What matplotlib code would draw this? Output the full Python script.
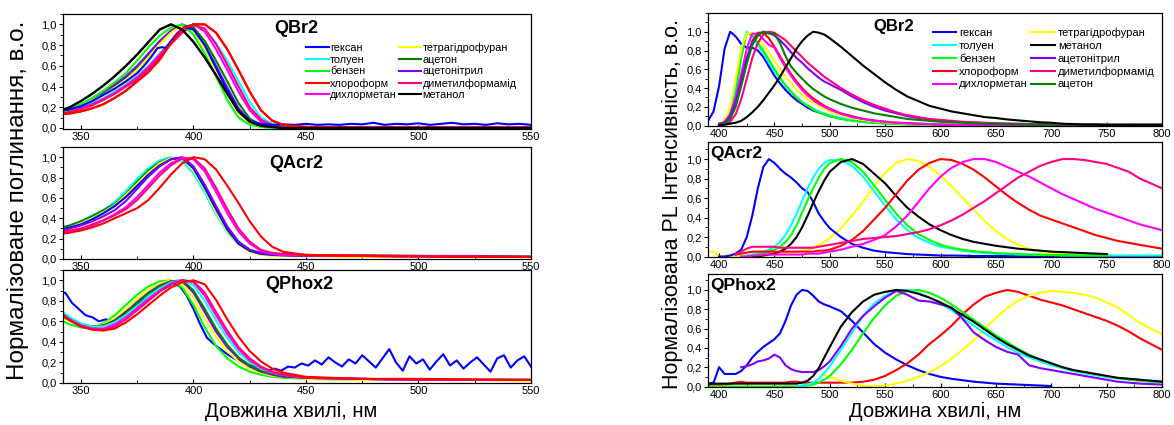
import matplotlib
matplotlib.use('Agg')
import matplotlib.pyplot as plt
from matplotlib.ticker import MultipleLocator, FuncFormatter

plt.rcParams['font.family'] = ['Liberation Sans', 'DejaVu Sans']

# solvent names and colours (Origin-like)
names = {'hex': 'гексан', 'tol': 'толуен', 'bz': 'бензен', 'chl': 'хлороформ',
         'dcm': 'дихлорметан', 'thf': 'тетрагідрофуран', 'ace': 'ацетон',
         'acn': 'ацетонітрил', 'dmf': 'диметилформамід', 'meoh': 'метанол'}
colors = {'hex': '#0000ff', 'tol': '#00ffff', 'bz': '#00ff00', 'chl': '#ff0000',
          'dcm': '#ff00ff', 'thf': '#ffff00', 'ace': '#008000', 'acn': '#8000ff',
          'dmf': '#ff0080', 'meoh': '#000000'}

# ---------------- absorption (left column) ----------------
wl_abs = list(range(340, 441, 5)) + [450, 475, 500, 525, 550]

# QBr2
br_abs = {
    'meoh': [0.16, 0.20, 0.26, 0.33, 0.41, 0.50, 0.60, 0.71, 0.83, 0.95, 1.00, 0.95, 0.83, 0.68, 0.51, 0.33, 0.16, 0.06, 0.02, 0.01, 0.0, 0.0, 0.0, 0.0, 0.0, 0.0],
    'bz':   [0.14, 0.18, 0.23, 0.29, 0.36, 0.44, 0.53, 0.65, 0.78, 0.89, 0.97, 1.00, 0.90, 0.72, 0.50, 0.27, 0.10, 0.03, 0.01, 0.0, 0.0, 0.0, 0.0, 0.0, 0.0, 0.0],
    'acn':  [0.15, 0.18, 0.22, 0.28, 0.35, 0.42, 0.50, 0.60, 0.72, 0.84, 0.94, 1.00, 0.95, 0.80, 0.60, 0.39, 0.19, 0.07, 0.02, 0.01, 0.0, 0.0, 0.0, 0.0, 0.0, 0.0],
    'ace':  [0.15, 0.18, 0.22, 0.27, 0.33, 0.41, 0.49, 0.59, 0.71, 0.83, 0.93, 0.99, 0.97, 0.84, 0.65, 0.45, 0.24, 0.09, 0.03, 0.01, 0.0, 0.0, 0.0, 0.0, 0.0, 0.0],
    'thf':  [0.16, 0.18, 0.22, 0.27, 0.32, 0.39, 0.46, 0.56, 0.68, 0.81, 0.92, 0.99, 0.93, 0.77, 0.56, 0.34, 0.15, 0.05, 0.02, 0.01, 0.0, 0.0, 0.0, 0.0, 0.0, 0.0],
    'tol':  [0.15, 0.17, 0.20, 0.24, 0.29, 0.35, 0.42, 0.50, 0.60, 0.72, 0.84, 0.94, 1.00, 0.95, 0.82, 0.65, 0.45, 0.25, 0.10, 0.04, 0.01, 0.0, 0.0, 0.0, 0.0, 0.0],
    'dcm':  [0.14, 0.16, 0.19, 0.23, 0.28, 0.34, 0.41, 0.49, 0.59, 0.71, 0.83, 0.94, 1.00, 0.93, 0.76, 0.56, 0.35, 0.17, 0.06, 0.02, 0.01, 0.0, 0.0, 0.0, 0.0, 0.0],
    'dmf':  [0.14, 0.16, 0.18, 0.22, 0.27, 0.33, 0.40, 0.47, 0.57, 0.69, 0.81, 0.92, 0.99, 0.96, 0.81, 0.61, 0.40, 0.20, 0.08, 0.03, 0.01, 0.01, 0.01, 0.01, 0.01, 0.01],
    'chl':  [0.13, 0.14, 0.16, 0.19, 0.23, 0.29, 0.36, 0.45, 0.54, 0.66, 0.82, 0.96, 1.00, 1.00, 0.92, 0.76, 0.56, 0.35, 0.17, 0.07, 0.03, 0.01, 0.0, 0.0, 0.0, 0.0],
}
br_abs_hex_wl = [340, 345, 350, 355, 360, 365, 370, 375, 378, 381, 384, 386, 388, 390, 393, 396,
                 400, 405, 410, 415, 420, 425, 430, 435, 440, 445, 450, 455, 460, 465, 470, 475,
                 480, 485, 490, 495, 500, 505, 510, 515, 520, 525, 530, 535, 540, 545, 550]
br_abs_hex = [0.16, 0.18, 0.21, 0.26, 0.32, 0.38, 0.45, 0.53, 0.60, 0.68, 0.77, 0.78, 0.77, 0.84, 0.92, 0.97,
              0.95, 0.80, 0.58, 0.36, 0.17, 0.07, 0.04, 0.03, 0.035, 0.03, 0.04, 0.03, 0.035, 0.03, 0.04, 0.035,
              0.05, 0.03, 0.04, 0.035, 0.045, 0.03, 0.04, 0.05, 0.035, 0.04, 0.03, 0.045, 0.035, 0.04, 0.03]

# QAcr2
acr_abs = {
    'tol': [0.30, 0.33, 0.37, 0.43, 0.48, 0.56, 0.67, 0.79, 0.89, 0.97, 1.00, 0.96, 0.84, 0.65, 0.44, 0.26, 0.14, 0.08, 0.05, 0.04, 0.035, 0.03, 0.03, 0.025, 0.02, 0.02],
    'ace': [0.30, 0.33, 0.37, 0.42, 0.48, 0.54, 0.64, 0.76, 0.87, 0.95, 0.99, 0.99, 0.89, 0.71, 0.50, 0.31, 0.17, 0.09, 0.06, 0.05, 0.045, 0.04, 0.035, 0.03, 0.03, 0.025],
    'thf': [0.28, 0.31, 0.35, 0.40, 0.46, 0.53, 0.63, 0.74, 0.85, 0.94, 0.99, 0.98, 0.87, 0.68, 0.46, 0.27, 0.14, 0.07, 0.04, 0.03, 0.03, 0.025, 0.02, 0.02, 0.02, 0.02],
    'hex': [0.28, 0.31, 0.34, 0.39, 0.45, 0.52, 0.61, 0.72, 0.83, 0.92, 0.98, 0.99, 0.89, 0.70, 0.49, 0.29, 0.15, 0.08, 0.05, 0.04, 0.035, 0.03, 0.03, 0.025, 0.02, 0.02],
    'acn': [0.27, 0.30, 0.33, 0.37, 0.42, 0.48, 0.57, 0.69, 0.81, 0.91, 0.98, 1.00, 0.91, 0.73, 0.52, 0.32, 0.17, 0.09, 0.06, 0.045, 0.04, 0.035, 0.03, 0.03, 0.025, 0.02],
    'dcm': [0.24, 0.26, 0.29, 0.33, 0.38, 0.44, 0.51, 0.61, 0.73, 0.85, 0.94, 0.99, 0.98, 0.86, 0.66, 0.45, 0.27, 0.15, 0.08, 0.05, 0.04, 0.035, 0.03, 0.025, 0.02, 0.02],
    'dmf': [0.26, 0.28, 0.30, 0.34, 0.38, 0.43, 0.49, 0.58, 0.70, 0.82, 0.92, 0.99, 0.99, 0.89, 0.70, 0.49, 0.30, 0.17, 0.09, 0.06, 0.05, 0.04, 0.035, 0.03, 0.025, 0.02],
    'chl': [0.25, 0.26, 0.28, 0.31, 0.35, 0.40, 0.45, 0.50, 0.58, 0.70, 0.83, 0.94, 1.00, 0.98, 0.88, 0.72, 0.55, 0.37, 0.22, 0.12, 0.07, 0.04, 0.03, 0.025, 0.02, 0.02],
}

# QPhox2
ph_abs = {
    'bz':  [0.62, 0.57, 0.54, 0.54, 0.58, 0.66, 0.76, 0.86, 0.94, 0.99, 1.00, 0.93, 0.76, 0.54, 0.36, 0.24, 0.16, 0.11, 0.08, 0.06, 0.05, 0.04, 0.03, 0.03, 0.03, 0.03],
    'thf': [0.66, 0.60, 0.56, 0.55, 0.57, 0.63, 0.72, 0.82, 0.91, 0.97, 1.00, 0.96, 0.83, 0.63, 0.45, 0.31, 0.21, 0.14, 0.10, 0.07, 0.06, 0.04, 0.03, 0.03, 0.03, 0.02],
    'acn': [0.68, 0.62, 0.57, 0.55, 0.56, 0.61, 0.69, 0.79, 0.88, 0.95, 0.99, 0.99, 0.88, 0.69, 0.50, 0.35, 0.24, 0.16, 0.11, 0.08, 0.06, 0.05, 0.04, 0.03, 0.03, 0.03],
    'ace': [0.67, 0.61, 0.57, 0.55, 0.56, 0.60, 0.68, 0.78, 0.87, 0.94, 0.99, 1.00, 0.90, 0.72, 0.53, 0.37, 0.25, 0.17, 0.12, 0.09, 0.07, 0.05, 0.04, 0.035, 0.03, 0.03],
    'tol': [0.72, 0.64, 0.58, 0.55, 0.55, 0.59, 0.66, 0.75, 0.84, 0.92, 0.98, 1.00, 0.95, 0.80, 0.61, 0.44, 0.30, 0.20, 0.14, 0.10, 0.08, 0.05, 0.04, 0.03, 0.03, 0.03],
    'dcm': [0.70, 0.62, 0.56, 0.53, 0.53, 0.57, 0.64, 0.73, 0.82, 0.90, 0.97, 1.00, 0.98, 0.85, 0.66, 0.48, 0.33, 0.22, 0.15, 0.10, 0.08, 0.05, 0.04, 0.03, 0.03, 0.03],
    'dmf': [0.69, 0.61, 0.55, 0.52, 0.52, 0.55, 0.62, 0.71, 0.80, 0.89, 0.96, 1.00, 0.99, 0.88, 0.69, 0.51, 0.35, 0.24, 0.16, 0.11, 0.08, 0.05, 0.04, 0.03, 0.03, 0.03],
    'chl': [0.70, 0.61, 0.55, 0.52, 0.51, 0.53, 0.59, 0.67, 0.76, 0.85, 0.93, 0.98, 1.00, 0.96, 0.81, 0.62, 0.45, 0.31, 0.21, 0.14, 0.10, 0.06, 0.04, 0.04, 0.035, 0.03],
}
ph_abs_hex_wl = list(range(340, 551, 3))
ph_abs_hex = [0.85, 0.88, 0.78, 0.72, 0.66, 0.64, 0.60, 0.62, 0.60, 0.65,
              0.70, 0.74, 0.79, 0.82, 0.87, 0.90, 0.93, 0.97, 0.94, 0.85,
              0.72, 0.57, 0.44, 0.38, 0.33, 0.28, 0.24, 0.21, 0.18, 0.16,
              0.14, 0.12, 0.14, 0.12, 0.16, 0.15, 0.19, 0.17, 0.22, 0.18,
              0.25, 0.20, 0.16, 0.23, 0.19, 0.27, 0.21, 0.15, 0.24, 0.33,
              0.20, 0.12, 0.26, 0.19, 0.23, 0.13, 0.21, 0.28, 0.17, 0.22,
              0.14, 0.20, 0.25, 0.18, 0.11, 0.24, 0.27, 0.15, 0.22, 0.26,
              0.16]

# ---------------- photoluminescence (right column) ----------------
wl_pl = list(range(390, 500, 5)) + list(range(500, 801, 10))

br_tail = [0.008, 0.007, 0.006, 0.005, 0.005, 0.005, 0.005, 0.005, 0.005, 0.005, 0.005,
           0.005, 0.005, 0.005, 0.005, 0.005, 0.005, 0.005, 0.005, 0.005, 0.005]

# QBr2: (start wavelength, values)
br_pl = {
    'hex': (390, [0.05, 0.15, 0.42, 0.82, 1.00, 0.95, 0.87, 0.83, 0.83, 0.80, 0.73, 0.63, 0.53, 0.45, 0.38, 0.32, 0.27, 0.23, 0.19, 0.16, 0.14, 0.12,
                  0.10, 0.075, 0.055, 0.04, 0.03, 0.025, 0.02, 0.015, 0.012, 0.01] + br_tail),
    'tol': (400, [0.01, 0.04, 0.14, 0.40, 0.82, 1.00, 0.95, 0.86, 0.77, 0.67, 0.58, 0.50, 0.42, 0.36, 0.30, 0.25, 0.21, 0.18, 0.15, 0.13,
                  0.11, 0.08, 0.06, 0.045, 0.035, 0.025, 0.02, 0.015, 0.01, 0.01] + br_tail),
    'bz':  (400, [0.01, 0.03, 0.11, 0.33, 0.72, 0.98, 0.97, 0.88, 0.80, 0.70, 0.60, 0.51, 0.43, 0.36, 0.30, 0.25, 0.21, 0.17, 0.14, 0.12,
                  0.10, 0.07, 0.05, 0.04, 0.03, 0.02, 0.015, 0.012, 0.01, 0.01] + br_tail),
    'thf': (400, [0.01, 0.06, 0.20, 0.50, 0.82, 0.98, 0.99, 0.93, 0.86, 0.78, 0.69, 0.60, 0.52, 0.45, 0.38, 0.33, 0.28, 0.24, 0.21, 0.18,
                  0.15, 0.11, 0.08, 0.06, 0.045, 0.035, 0.025, 0.02, 0.015, 0.01] + br_tail),
    'dcm': (400, [0.01, 0.04, 0.12, 0.30, 0.55, 0.82, 0.98, 0.98, 0.92, 0.86, 0.83, 0.72, 0.62, 0.53, 0.45, 0.38, 0.32, 0.27, 0.23, 0.20,
                  0.17, 0.125, 0.09, 0.07, 0.05, 0.04, 0.03, 0.025, 0.02, 0.015] + br_tail),
    'chl': (400, [0.01, 0.02, 0.08, 0.22, 0.45, 0.70, 0.90, 0.99, 0.99, 0.93, 0.84, 0.74, 0.64, 0.55, 0.47, 0.40, 0.34, 0.29, 0.25, 0.21,
                  0.18, 0.13, 0.10, 0.07, 0.055, 0.04, 0.03, 0.025, 0.02, 0.015] + br_tail),
    'ace': (400, [0.00, 0.02, 0.07, 0.20, 0.42, 0.66, 0.86, 0.96, 1.00, 0.98, 0.98, 0.88, 0.74, 0.63, 0.56, 0.50, 0.44, 0.39, 0.35, 0.31,
                  0.28, 0.23, 0.19, 0.16, 0.13, 0.11, 0.09, 0.07, 0.06, 0.05,
                  0.04, 0.035, 0.03, 0.025, 0.02, 0.02, 0.015, 0.015, 0.012, 0.01, 0.01, 0.01, 0.01, 0.01, 0.01, 0.01, 0.01, 0.01, 0.01, 0.01, 0.01]),
    'acn': (400, [0.02, 0.03, 0.10, 0.25, 0.48, 0.72, 0.89, 0.97, 1.00, 0.99, 0.96, 0.91, 0.85, 0.78, 0.72, 0.67, 0.61, 0.56, 0.51, 0.47,
                  0.44, 0.38, 0.31, 0.25, 0.20, 0.16, 0.13, 0.10, 0.08, 0.065,
                  0.05, 0.04, 0.035, 0.03, 0.025, 0.02, 0.02, 0.015, 0.015, 0.01, 0.01, 0.01, 0.01, 0.01, 0.01, 0.01, 0.01, 0.01, 0.01, 0.01, 0.01]),
    'dmf': (400, [0.00, 0.01, 0.04, 0.12, 0.28, 0.50, 0.72, 0.88, 0.97, 1.00, 0.99, 0.95, 0.91, 0.85, 0.79, 0.73, 0.67, 0.62, 0.57, 0.52,
                  0.48, 0.40, 0.33, 0.27, 0.22, 0.18, 0.14, 0.11, 0.09, 0.07,
                  0.06, 0.05, 0.04, 0.035, 0.03, 0.025, 0.02, 0.02, 0.015, 0.015, 0.01, 0.01, 0.01, 0.01, 0.01, 0.01, 0.01, 0.01, 0.01, 0.01, 0.01]),
    'meoh': (400, [0.00, 0.01, 0.02, 0.03, 0.05, 0.09, 0.14, 0.20, 0.27, 0.35, 0.43, 0.52, 0.62, 0.72, 0.82, 0.90, 0.96, 1.00, 0.99, 0.97,
                   0.93, 0.84, 0.74, 0.64, 0.55, 0.46, 0.38, 0.31, 0.26, 0.21,
                   0.18, 0.15, 0.13, 0.11, 0.09, 0.08, 0.065, 0.055, 0.045, 0.035, 0.03, 0.02, 0.015, 0.01, 0.01, 0.005, 0.005, 0.005, 0.005, 0.005, 0.005]),
}

# QAcr2
acr_pl = {
    'hex': (400, [0.0, 0.0, 0.01, 0.03, 0.07, 0.20, 0.42, 0.70, 0.92, 1.00, 0.96, 0.90, 0.85, 0.81, 0.76, 0.70, 0.66, 0.56, 0.44, 0.36,
                  0.29, 0.20, 0.13, 0.09, 0.06, 0.045, 0.035, 0.025, 0.02, 0.015,
                  0.01, 0.01, 0.008, 0.006, 0.005, 0.005, 0.005, 0.005, 0.005, 0.005, 0.005, 0.005, 0.005, 0.005, 0.005, 0.005, 0.005, 0.005, 0.005, 0.005, 0.005]),
    'tol': (420, [0.0, 0.01, 0.02, 0.03, 0.05, 0.07, 0.10, 0.15, 0.22, 0.32, 0.44, 0.57, 0.70, 0.81, 0.90, 0.96,
                  0.99, 0.99, 0.93, 0.82, 0.67, 0.52, 0.38, 0.27, 0.19, 0.14,
                  0.10, 0.08, 0.06, 0.045, 0.035, 0.03, 0.025, 0.02, 0.02, 0.015, 0.015, 0.01, 0.01, 0.01, 0.01, 0.01, 0.01, 0.01, 0.01, 0.01, 0.01]),
    'bz':  (425, [0.0, 0.01, 0.02, 0.03, 0.05, 0.07, 0.10, 0.15, 0.22, 0.32, 0.45, 0.58, 0.70, 0.81, 0.90,
                  0.96, 1.00, 0.97, 0.87, 0.73, 0.58, 0.44, 0.32, 0.23, 0.17,
                  0.12, 0.09, 0.07, 0.055, 0.045, 0.035, 0.03, 0.025, 0.02, 0.02, 0.015, 0.015, 0.01, 0.01, 0.01, 0.01]),
    'meoh': (430, [0.0, 0.0, 0.01, 0.02, 0.03, 0.05, 0.08, 0.13, 0.20, 0.30, 0.42, 0.55, 0.67, 0.78,
                   0.87, 0.97, 1.00, 0.95, 0.85, 0.75, 0.62, 0.50, 0.41, 0.33,
                   0.27, 0.22, 0.18, 0.15, 0.13, 0.11, 0.095, 0.08, 0.07, 0.06, 0.05, 0.045, 0.04, 0.035, 0.03, 0.025]),
    'thf': (390, [0.05, 0.05, 0.0, 0.01, 0.01, 0.01, 0.01, 0.01, 0.01, 0.01, 0.01, 0.015, 0.02, 0.025, 0.03, 0.035, 0.045, 0.055, 0.07, 0.09, 0.12, 0.15,
                  0.19, 0.29, 0.42, 0.56, 0.72, 0.86, 0.96, 1.00, 0.98, 0.92,
                  0.83, 0.72, 0.60, 0.48, 0.36, 0.26, 0.18, 0.12, 0.08, 0.05, 0.035, 0.025, 0.02, 0.015, 0.01, 0.01, 0.01, 0.01, 0.01, 0.01, 0.01]),
    'chl': (415, [0.02, 0.03, 0.04, 0.05, 0.05, 0.05, 0.05, 0.05, 0.05, 0.05, 0.05, 0.05, 0.05, 0.05, 0.05, 0.06, 0.06,
                  0.07, 0.11, 0.17, 0.26, 0.38, 0.50, 0.64, 0.78, 0.89, 0.96,
                  1.00, 0.99, 0.95, 0.89, 0.81, 0.72, 0.63, 0.55, 0.48, 0.42, 0.38, 0.34, 0.30, 0.26, 0.22, 0.19, 0.16, 0.14, 0.12, 0.10, 0.08]),
    'dcm': (420, [0.0, 0.0, 0.01, 0.01, 0.02, 0.02, 0.02, 0.02, 0.02, 0.02, 0.02, 0.02, 0.03, 0.03, 0.03, 0.04,
                  0.05, 0.07, 0.10, 0.13, 0.17, 0.22, 0.31, 0.42, 0.56, 0.70,
                  0.82, 0.91, 0.97, 1.00, 1.00, 0.97, 0.92, 0.87, 0.82, 0.76, 0.70, 0.64, 0.59, 0.54, 0.49, 0.45, 0.41, 0.37, 0.33, 0.30, 0.27]),
    'dmf': (415, [0.02, 0.05, 0.08, 0.10, 0.10, 0.10, 0.10, 0.10, 0.09, 0.09, 0.09, 0.09, 0.09, 0.09, 0.09, 0.10, 0.11,
                  0.12, 0.14, 0.16, 0.18, 0.19, 0.20, 0.21, 0.23, 0.25, 0.28,
                  0.32, 0.37, 0.43, 0.50, 0.57, 0.65, 0.73, 0.81, 0.87, 0.93, 0.97, 1.00, 1.00, 0.99, 0.97, 0.95, 0.91, 0.87, 0.80, 0.75, 0.70]),
}

# QPhox2
ph_pl = {
    'hex': (390, [0.03, 0.04, 0.20, 0.13, 0.13, 0.13, 0.16, 0.22, 0.30, 0.36, 0.41, 0.45, 0.49, 0.55, 0.68, 0.84, 0.95, 1.00, 0.99, 0.94, 0.88, 0.85,
                  0.83, 0.78, 0.68, 0.56, 0.44, 0.35, 0.28, 0.22, 0.17, 0.13,
                  0.10, 0.08, 0.065, 0.05, 0.04, 0.03, 0.025, 0.02, 0.015, 0.01, 0.005]),
    'acn': (420, [0.20, 0.21, 0.23, 0.26, 0.27, 0.29, 0.33, 0.30, 0.22, 0.18, 0.16, 0.15, 0.15, 0.15, 0.17, 0.21,
                  0.26, 0.42, 0.60, 0.73, 0.83, 0.92, 0.99, 0.95, 0.89, 0.88,
                  0.85, 0.82, 0.70, 0.56, 0.48, 0.41, 0.36, 0.33, 0.22, 0.19, 0.17, 0.15, 0.13, 0.11, 0.09, 0.07, 0.05, 0.04, 0.03, 0.025, 0.02]),
    'tol': (470, [0.0, 0.01, 0.02, 0.04, 0.08, 0.14,
                  0.21, 0.38, 0.56, 0.73, 0.86, 0.94, 0.99, 1.00, 0.97, 0.92,
                  0.86, 0.79, 0.71, 0.63, 0.55, 0.48, 0.41, 0.35, 0.30, 0.26, 0.22, 0.19, 0.16, 0.14, 0.12, 0.10, 0.09, 0.08, 0.07, 0.06, 0.05]),
    'bz':  (390, [0.0, 0.0, 0.0, 0.0, 0.0, 0.0, 0.0, 0.0, 0.0, 0.0, 0.0, 0.0, 0.0, 0.0, 0.0, 0.0, 0.0, 0.005, 0.01, 0.02, 0.04, 0.07,
                  0.11, 0.23, 0.38, 0.55, 0.71, 0.84, 0.94, 0.99, 1.00, 0.97,
                  0.92, 0.85, 0.77, 0.69, 0.61, 0.53, 0.46, 0.39, 0.33, 0.28, 0.24, 0.20, 0.17, 0.14, 0.12, 0.10, 0.085, 0.07, 0.06, 0.05, 0.045]),
    'meoh': (390, [0.03, 0.03, 0.03, 0.03, 0.03, 0.03, 0.03, 0.03, 0.03, 0.03, 0.03, 0.03, 0.03, 0.03, 0.03, 0.03, 0.03, 0.04, 0.06, 0.11, 0.19, 0.30,
                   0.41, 0.62, 0.77, 0.88, 0.95, 0.98, 1.00, 0.99, 0.96, 0.92,
                   0.87, 0.81, 0.74, 0.67, 0.59, 0.51, 0.44, 0.38, 0.32, 0.28, 0.24, 0.20, 0.17, 0.15, 0.13, 0.11, 0.09, 0.08, 0.07, 0.06, 0.05]),
    'chl': (390, [0.02, 0.02, 0.02, 0.02, 0.03, 0.04, 0.05, 0.04, 0.04, 0.04, 0.04, 0.04, 0.04, 0.04, 0.04, 0.05, 0.05, 0.04, 0.04, 0.04, 0.04, 0.04,
                  0.04, 0.04, 0.04, 0.05, 0.07, 0.11, 0.17, 0.24, 0.33, 0.44,
                  0.53, 0.63, 0.75, 0.85, 0.93, 0.97, 1.00, 0.98, 0.94, 0.90, 0.87, 0.84, 0.80, 0.76, 0.72, 0.68, 0.63, 0.57, 0.50, 0.44, 0.38]),
    'thf': (495, [0.12,
                  0.10, 0.06, 0.03, 0.01, 0.0, 0.01, 0.03, 0.06, 0.10, 0.15,
                  0.21, 0.29, 0.38, 0.48, 0.60, 0.71, 0.81, 0.89, 0.94, 0.97, 0.99, 0.98, 0.97, 0.95, 0.92, 0.87, 0.82, 0.74, 0.66, 0.60, 0.54]),
}


def pl_x(start, vals):
    i0 = wl_pl.index(start)
    return wl_pl[i0:i0 + len(vals)]


W, H = 1174, 425


def rect(x0, y0, x1, y1):
    return [x0 / W, 1 - y1 / H, (x1 - x0) / W, (y1 - y0) / H]


comma = FuncFormatter(lambda v, p: f'{v:.1f}'.replace('.', ','))


def style(ax, xlim, ylim):
    ax.set_xlim(*xlim)
    ax.set_ylim(*ylim)
    ax.xaxis.set_major_locator(MultipleLocator(50))
    ax.xaxis.set_minor_locator(MultipleLocator(25))
    ax.yaxis.set_minor_locator(MultipleLocator(0.1))
    ax.set_yticks([0, 0.2, 0.4, 0.6, 0.8, 1.0])
    ax.yaxis.set_major_formatter(comma)
    ax.tick_params(axis='x', which='major', direction='in', length=3, labelsize=8, pad=2)
    ax.tick_params(axis='x', which='minor', direction='in', length=2)
    ax.tick_params(axis='y', which='major', direction='out', length=3, labelsize=8, pad=1.5)
    ax.tick_params(axis='y', which='minor', direction='out', length=2)
    for s in ax.spines.values():
        s.set_linewidth(0.9)


fig = plt.figure(figsize=(W / 100, H / 100), dpi=100)

lw = 1.5
abs_order = ['tol', 'dcm', 'dmf', 'ace', 'acn', 'thf', 'bz', 'chl', 'meoh']

# ---- left column ----
ax1 = fig.add_axes(rect(63, 14, 531, 129))
lines = {}
for k in abs_order:
    lines[k], = ax1.plot(wl_abs, br_abs[k], color=colors[k], lw=lw, label=names[k])
lines['hex'], = ax1.plot(br_abs_hex_wl, br_abs_hex, color=colors['hex'], lw=lw, label=names['hex'])
ax1.plot(wl_abs, br_abs['chl'], color=colors['chl'], lw=lw)
ax1.plot(wl_abs, br_abs['meoh'], color=colors['meoh'], lw=lw)
style(ax1, (342, 550), (-0.01, 1.1))
ax1.text(0.498, 0.87, 'QBr2', transform=ax1.transAxes, ha='center', va='center',
         fontsize=13, fontweight='bold')
leg_keys = ['hex', 'tol', 'bz', 'chl', 'dcm', 'thf', 'ace', 'acn', 'dmf', 'meoh']
ax1.legend([lines[k] for k in leg_keys], [names[k] for k in leg_keys], ncol=2,
           loc='upper left', bbox_to_anchor=(0.52, 0.75), frameon=False, fontsize=7.8,
           handlelength=2.1, handletextpad=0.1, columnspacing=0.15, labelspacing=0.15,
           borderpad=0, borderaxespad=0)

ax2 = fig.add_axes(rect(63, 147, 531, 259))
for k in ['tol', 'ace', 'thf', 'hex', 'acn', 'dcm', 'dmf', 'chl']:
    ax2.plot(wl_abs, acr_abs[k], color=colors[k], lw=lw)
style(ax2, (342, 550), (0, 1.1))
ax2.text(0.498, 0.85, 'QAcr2', transform=ax2.transAxes, ha='center', va='center',
         fontsize=13, fontweight='bold')

ax3 = fig.add_axes(rect(63, 270, 531, 383))
ax3.plot(ph_abs_hex_wl, ph_abs_hex, color=colors['hex'], lw=lw)
for k in ['bz', 'thf', 'acn', 'ace', 'tol', 'dcm', 'dmf', 'chl']:
    ax3.plot(wl_abs, ph_abs[k], color=colors[k], lw=lw)
style(ax3, (342, 550), (0, 1.1))
ax3.text(0.505, 0.87, 'QPhox2', transform=ax3.transAxes, ha='center', va='center',
         fontsize=13, fontweight='bold')

# ---- right column ----
ax4 = fig.add_axes(rect(708, 13, 1162, 126))
plines = {}
for k in ['hex', 'tol', 'bz', 'thf', 'chl', 'dcm', 'acn', 'dmf', 'ace', 'meoh']:
    start, vals = br_pl[k]
    plines[k], = ax4.plot(pl_x(start, vals), vals, color=colors[k], lw=lw)
style(ax4, (390, 800), (-0.005, 1.2))
ax4.text(0.41, 0.88, 'QBr2', transform=ax4.transAxes, ha='center', va='center',
         fontsize=12, fontweight='bold')
leg_keys = ['hex', 'tol', 'bz', 'chl', 'dcm', 'thf', 'meoh', 'acn', 'dmf', 'ace']
ax4.legend([plines[k] for k in leg_keys], [names[k] for k in leg_keys], ncol=2,
           loc='upper left', bbox_to_anchor=(0.495, 0.87), frameon=False, fontsize=8.1,
           handlelength=2.1, handletextpad=0.25, columnspacing=0.3, labelspacing=0.24,
           borderpad=0, borderaxespad=0)

ax5 = fig.add_axes(rect(708, 142, 1162, 257))
for k in ['thf', 'hex', 'tol', 'bz', 'meoh', 'chl', 'dcm', 'dmf']:
    start, vals = acr_pl[k]
    ax5.plot(pl_x(start, vals), vals, color=colors[k], lw=lw)
style(ax5, (390, 800), (-0.005, 1.175))
ax5.text(0.005, 0.9, 'QAcr2', transform=ax5.transAxes, ha='left', va='center',
         fontsize=12.5, fontweight='bold')

ax6 = fig.add_axes(rect(708, 274, 1162, 387))
for k in ['hex', 'chl', 'thf', 'bz', 'tol', 'acn', 'meoh']:
    start, vals = ph_pl[k]
    ax6.plot(pl_x(start, vals), vals, color=colors[k], lw=lw)
style(ax6, (390, 800), (-0.005, 1.165))
ax6.text(0.005, 0.9, 'QPhox2', transform=ax6.transAxes, ha='left', va='center',
         fontsize=12.5, fontweight='bold')

# axis titles
fig.text(18 / W, 1 - 200 / H, 'Нормалізоване поглинання, в.о.', rotation=90,
         ha='center', va='center', fontsize=17.5)
fig.text(672 / W, 1 - 204 / H, 'Нормалізована PL Інтенсивність, в.о.', rotation=90,
         ha='center', va='center', fontsize=15.5)
fig.text(291 / W, 1 - 411 / H, 'Довжина хвилі, нм', ha='center', va='center', fontsize=14.5)
fig.text(935 / W, 1 - 411 / H, 'Довжина хвилі, нм', ha='center', va='center', fontsize=14.5)

fig.savefig('out.png', dpi=100)
